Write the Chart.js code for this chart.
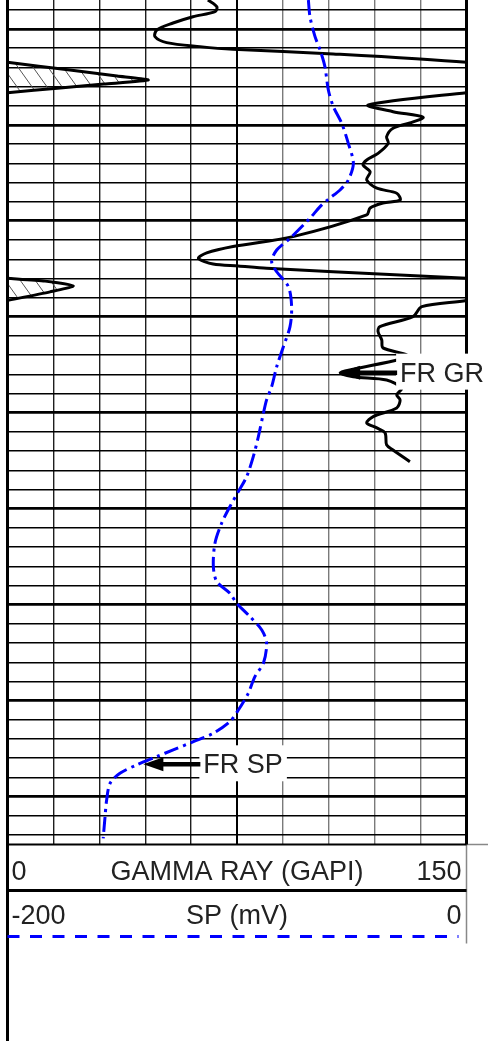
<!DOCTYPE html>
<html>
<head>
<meta charset="utf-8">
<title>GR / SP log</title>
<script src="https://cdn.jsdelivr.net/npm/chart.js@4.4.1/dist/chart.umd.min.js"></script>
<style>
  html, body { margin: 0; padding: 0; background: #fff; }
  canvas { display: block; }
</style>
</head>
<body>
<canvas id="logChart" width="488" height="1041"></canvas>
<script>
// depth grid (ft): thin line every 10, heavy line every 50
const depthTicks = [90, 100, 110, 120, 130, 140, 150, 160, 170, 180, 190, 200, 210, 220, 230, 240, 250,
  260, 270, 280, 290, 300, 310, 320, 330, 340, 350, 360, 370, 380, 390, 400, 410, 420, 430, 440, 450,
  460, 470, 480, 490, 500, 510, 520];
const grTicks = [0, 15, 30, 45, 60, 75, 90, 105, 120, 135, 150];

// gamma ray (GAPI) vs depth, values above 150 wrap onto the backup scale
const grDepth = [84.9, 88.4, 91.0, 93.6, 96.9, 100.5, 104.0, 107.1, 109.2, 110.6, 113.0, 117.4, 121.4,
  124.5, 126.6, 128.7, 130.7, 133.2, 139.6, 143.1, 146.0, 149.0, 151.7, 156.1, 159.6, 164.8, 168.3,
  170.9, 174.4, 178.7, 183.0, 185.6, 189.1, 190.7, 193.3, 196.9, 208.2, 213.4, 216.7, 219.5, 222.5,
  223.5, 224.7, 226.5, 229.9, 231.4, 233.9, 237.0, 241.5, 244.7, 249.9, 255.1, 257.7, 262.1, 266.2,
  269.9, 272.1, 277.3, 279.1, 281.2, 282.9, 287.2, 290.7, 293.3, 297.5, 302.0, 305.3, 307.9, 310.5,
  316.8, 319.4, 325.5];
const grValue = [65.5, 68.4, 67.8, 60.6, 54.1, 48.8, 48.2, 52.0, 62.9, 73.7, 106.4, 150, 170.4,
  185.8, 196.0, 181.5, 167.2, 150, 117.9, 126.0, 135.8, 131.5, 126.0, 123.9, 124.4, 121.1, 117.4,
  116.2, 118.5, 117.4, 120.7, 127.2, 128.3, 122.7, 118.5, 117.4, 93.3, 73.7, 65.1, 62.4, 67.2,
  75.4, 84.7, 106.4, 150, 162.3, 171.5, 163.9, 150, 135.4, 132.5, 121.7, 121.1, 122.3, 122.7,
  130.5, 128.3, 113.0, 108.7, 113.0, 123.9, 128.8, 127.2, 128.3, 127.2, 119.5, 117.4, 120.7, 123.4,
  123.9, 126.0, 131.5];

// spontaneous potential (mV) vs depth
const spDepth = [84.9, 93.6, 104.0, 110.9, 119.6, 131.8, 140.5, 149.1, 159.6, 170.0, 178.7, 183.9,
  188.7, 192.6, 198.6, 209.1, 215.2, 221.3, 226.5, 234.3, 244.7, 255.1, 265.6, 276.0, 286.4, 293.3,
  300.3, 312.5, 322.9, 333.3, 341.1, 348.9, 357.6, 368.0, 380.2, 388.0, 394.1, 399.3, 406.3, 413.2,
  420.1, 430.5, 437.5, 446.2, 454.9, 461.0, 467.0, 471.4, 475.7, 479.2, 483.5, 487.9, 493.1, 501.8,
  510.5, 521.8];
const spValue = [-68.9, -68.2, -66.0, -63.8, -61.7, -60.2, -58.0, -54.4, -51.5, -49.3, -51.5, -55.1,
  -60.2, -63.8, -68.2, -76.9, -82.7, -84.9, -82.7, -77.6, -76.2, -76.9, -79.8, -82.7, -84.9, -87.1,
  -88.5, -90.7, -92.9, -95.8, -99.4, -103.1, -106.7, -109.6, -110.3, -108.8, -103.1, -100.1, -94.3,
  -89.2, -87.1, -88.5, -92.2, -95.1, -99.4, -103.1, -110.3, -119.0, -127.8, -135.0, -143.7, -151.0,
  -155.3, -156.8, -157.5, -158.3];

const grHeader = ['0', 'GAMMA RAY (GAPI)', '150'];
const spHeader = ['-200', 'SP (mV)', '0'];
const markers = [
  {label: 'FR GR', axis: 'x', depth: 279.1, value: 108.7},
  {label: 'FR SP', axis: 'xsp', depth: 483.2, value: -140.8}
];

const grPoints = grDepth.map((d, i) => ({x: grValue[i], y: d}));
const grBackup = grDepth.map((d, i) => ({x: grValue[i] >= 150 ? grValue[i] - 150 : null, y: d}));
const spPoints = spDepth.map((d, i) => ({x: spValue[i], y: d}));

function makeHatch() {
  const c = document.createElement('canvas');
  c.width = 15; c.height = 21;
  const g = c.getContext('2d');
  g.strokeStyle = '#555';
  g.lineWidth = 1;
  g.beginPath();
  for (let n = -1; n <= 1; n++) {
    g.moveTo(15 * n - 15, -21);
    g.lineTo(15 * n + 30, 42);
  }
  g.stroke();
  return g.createPattern(c, 'repeat');
}

const FONT = "27px 'Liberation Sans', Arial, sans-serif";

const logFrame = {
  id: 'logFrame',
  afterDraw(chart) {
    const {ctx, chartArea: a} = chart;
    const H = chart.height, W = chart.width;
    const mid = (a.left + a.right) / 2;
    ctx.save();

    // header box
    ctx.strokeStyle = '#888';
    ctx.lineWidth = 1.5;
    ctx.beginPath();
    ctx.moveTo(a.right, a.bottom); ctx.lineTo(a.right, a.bottom + 99);
    ctx.moveTo(a.right, a.bottom); ctx.lineTo(W, a.bottom);
    ctx.stroke();

    ctx.strokeStyle = '#000';
    ctx.lineWidth = 2;
    ctx.beginPath();
    ctx.moveTo(a.left, a.bottom); ctx.lineTo(a.right, a.bottom);
    ctx.stroke();
    ctx.lineWidth = 3;
    ctx.beginPath();
    ctx.moveTo(a.left, a.bottom + 46); ctx.lineTo(a.right, a.bottom + 46);
    ctx.moveTo(a.left, 0); ctx.lineTo(a.left, H);
    ctx.moveTo(a.right, 0); ctx.lineTo(a.right, a.bottom);
    ctx.stroke();

    ctx.fillStyle = '#222';
    ctx.font = FONT;
    ctx.textBaseline = 'alphabetic';
    const rows = [[grHeader, a.bottom + 35.5], [spHeader, a.bottom + 79]];
    rows.forEach(([txt, y]) => {
      ctx.textAlign = 'left';  ctx.fillText(txt[0], a.left + 4, y);
      ctx.textAlign = 'center'; ctx.fillText(txt[1], mid, y);
      ctx.textAlign = 'right'; ctx.fillText(txt[2], a.right - 5, y);
    });

    ctx.strokeStyle = '#0000ff';
    ctx.lineWidth = 3;
    ctx.setLineDash([12, 10.5]);
    ctx.beginPath();
    ctx.moveTo(a.left, a.bottom + 92); ctx.lineTo(a.right - 8, a.bottom + 92);
    ctx.stroke();
    ctx.setLineDash([]);

    // arrows pointing at the formation curves
    markers.forEach(m => {
      const tx = chart.scales[m.axis].getPixelForValue(m.value);
      const ty = chart.scales.y.getPixelForValue(m.depth);
      ctx.font = FONT;
      const tw = ctx.measureText(m.label).width;
      ctx.fillStyle = '#fff';
      ctx.fillRect(tx + 56, ty - 19, tw + 8, 36);
      ctx.strokeStyle = '#000';
      ctx.lineWidth = 4.5;
      ctx.beginPath();
      ctx.moveTo(tx + 16, ty); ctx.lineTo(tx + 57, ty);
      ctx.stroke();
      ctx.fillStyle = '#000';
      ctx.beginPath();
      ctx.moveTo(tx, ty); ctx.lineTo(tx + 20, ty - 7); ctx.lineTo(tx + 20, ty + 7);
      ctx.closePath();
      ctx.fill();
      ctx.fillStyle = '#222';
      ctx.textAlign = 'left';
      ctx.fillText(m.label, tx + 60, ty + 9);
    });
    ctx.restore();
  }
};

new Chart(document.getElementById('logChart'), {
  type: 'line',
  data: {
    datasets: [
      {
        label: 'SP',
        data: spPoints,
        xAxisID: 'xsp',
        borderColor: '#0000ff',
        borderWidth: 3,
        borderDash: [15, 5, 3, 5],
        pointRadius: 0,
        tension: 0.3,
        fill: false
      },
      {
        label: 'Gamma ray',
        data: grPoints,
        xAxisID: 'x',
        borderColor: '#000',
        borderWidth: 3,
        pointRadius: 0,
        tension: 0.3,
        fill: false,
        clip: 0
      },
      {
        label: 'Gamma ray backup',
        data: grBackup,
        xAxisID: 'x',
        borderColor: '#000',
        borderWidth: 3,
        backgroundColor: makeHatch(),
        fill: 'start',
        pointRadius: 0,
        tension: 0.2,
        clip: 0
      }
    ]
  },
  options: {
    indexAxis: 'y',
    responsive: false,
    animation: false,
    events: [],
    layout: {padding: {left: 7.5, right: 21.5, top: 0, bottom: 196.5}},
    scales: {
      x: {
        type: 'linear', position: 'top', min: 0, max: 150,
        afterBuildTicks: s => { s.ticks = grTicks.map(v => ({value: v})); },
        ticks: {display: false},
        border: {display: false},
        grid: {
          drawTicks: false,
          color: c => c.index < 5 ? '#1e1e1e' : (c.index === 5 ? '#000' : '#7a7a7a'),
          lineWidth: c => c.index === 5 ? 2 : 1.4
        }
      },
      xsp: {type: 'linear', position: 'top', min: -200, max: 0, display: false},
      y: {
        type: 'linear', reverse: true, min: 84.9, max: 525,
        afterBuildTicks: s => { s.ticks = depthTicks.map(v => ({value: v})); },
        ticks: {display: false},
        border: {display: false},
        grid: {
          drawTicks: false,
          color: '#000',
          lineWidth: c => c.tick && c.tick.value % 50 === 0 ? 2.8 : 1.4
        }
      }
    },
    plugins: {legend: {display: false}, tooltip: {enabled: false}}
  },
  plugins: [logFrame]
});
</script>
</body>
</html>
